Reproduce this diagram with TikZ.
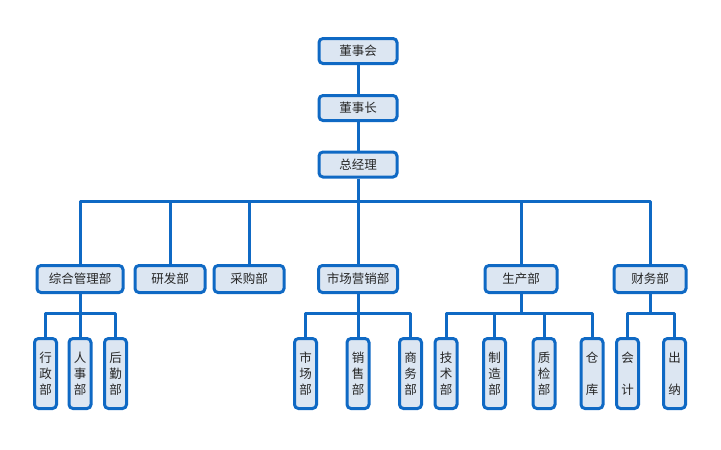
\documentclass[tikz,border=0pt]{standalone}
\usepackage{fontspec}
\newfontfamily\cjk{Noto Sans CJK SC}
\definecolor{bd}{HTML}{0F69C4}
\definecolor{fl}{HTML}{DCE6F2}
\definecolor{tx}{HTML}{262626}
\tikzset{
  box/.style={draw=bd, fill=fl, line width=3pt, rounded corners=4pt, inner sep=0pt,
    text=tx, font=\cjk\fontsize{12.5}{16}\selectfont, align=center},
  topbox/.style={box, minimum width=78pt, minimum height=25pt},
  midbox/.style={box, minimum height=27pt},
  vbox/.style={box, minimum width=22pt, minimum height=70pt},
  conn/.style={draw=bd, line width=3pt, line join=round}
}
\begin{document}
\begin{tikzpicture}[x=1pt,y=-1pt]
\useasboundingbox (0,0) rectangle (721,450);
\coordinate (bar1) at (358,201);
\coordinate (barA) at (80,313);
\coordinate (barB) at (358,313);
\coordinate (barC) at (521,313);
\coordinate (barD) at (650,313);
% top level
\node[topbox] (dsh) at (358,51) {董事会};
\node[topbox] (dsz) at (358,108) {董事长};
\node[topbox] (zjl) at (358,164.5) {总经理};
% level 2
\node[midbox, minimum width=86pt] (zh) at (80,279) {综合管理部};
\node[midbox, minimum width=70pt] (yf) at (170,279) {研发部};
\node[midbox, minimum width=70pt] (cg) at (249,279) {采购部};
\node[midbox, minimum width=79pt] (sc) at (358,279) {市场营销部};
\node[midbox, minimum width=72pt] (scb) at (521,279) {生产部};
\node[midbox, minimum width=72pt] (cw) at (650,279) {财务部};
% level 3
\node[vbox] (xz) at (45.5,373.5) {行\\政\\部};
\node[vbox] (rs) at (80,373.5) {人\\事\\部};
\node[vbox] (hq) at (115.5,373.5) {后\\勤\\部};
\node[vbox] (sca) at (305.5,373.5) {市\\场\\部};
\node[vbox] (xs) at (358,373.5) {销\\售\\部};
\node[vbox] (sw) at (410.5,373.5) {商\\务\\部};
\node[vbox] (js) at (446,373.5) {技\\术\\部};
\node[vbox] (zz) at (494.5,373.5) {制\\造\\部};
\node[vbox] (zj) at (544,373.5) {质\\检\\部};
\node[vbox] (ck) at (592,373.5) {仓\\[16pt]库};
\node[vbox] (kj) at (627.5,373.5) {会\\[16pt]计};
\node[vbox] (cn) at (674.5,373.5) {出\\[16pt]纳};
% connectors
\path[conn] (dsh.south) -- (dsz.north);
\path[conn] (dsz.south) -- (zjl.north);
\path[conn] (zjl.south) -- (bar1);
\foreach \n in {zh,yf,cg,sc,scb,cw} {\path[conn] (bar1) -| (\n.north);}
\path[conn] (zh.south) -- (barA);
\foreach \n in {xz,rs,hq} {\path[conn] (barA) -| (\n.north);}
\path[conn] (sc.south) -- (barB);
\foreach \n in {sca,xs,sw} {\path[conn] (barB) -| (\n.north);}
\path[conn] (scb.south) -- (barC);
\foreach \n in {js,zz,zj,ck} {\path[conn] (barC) -| (\n.north);}
\path[conn] (cw.south) -- (barD);
\foreach \n in {kj,cn} {\path[conn] (barD) -| (\n.north);}
\end{tikzpicture}
\end{document}
